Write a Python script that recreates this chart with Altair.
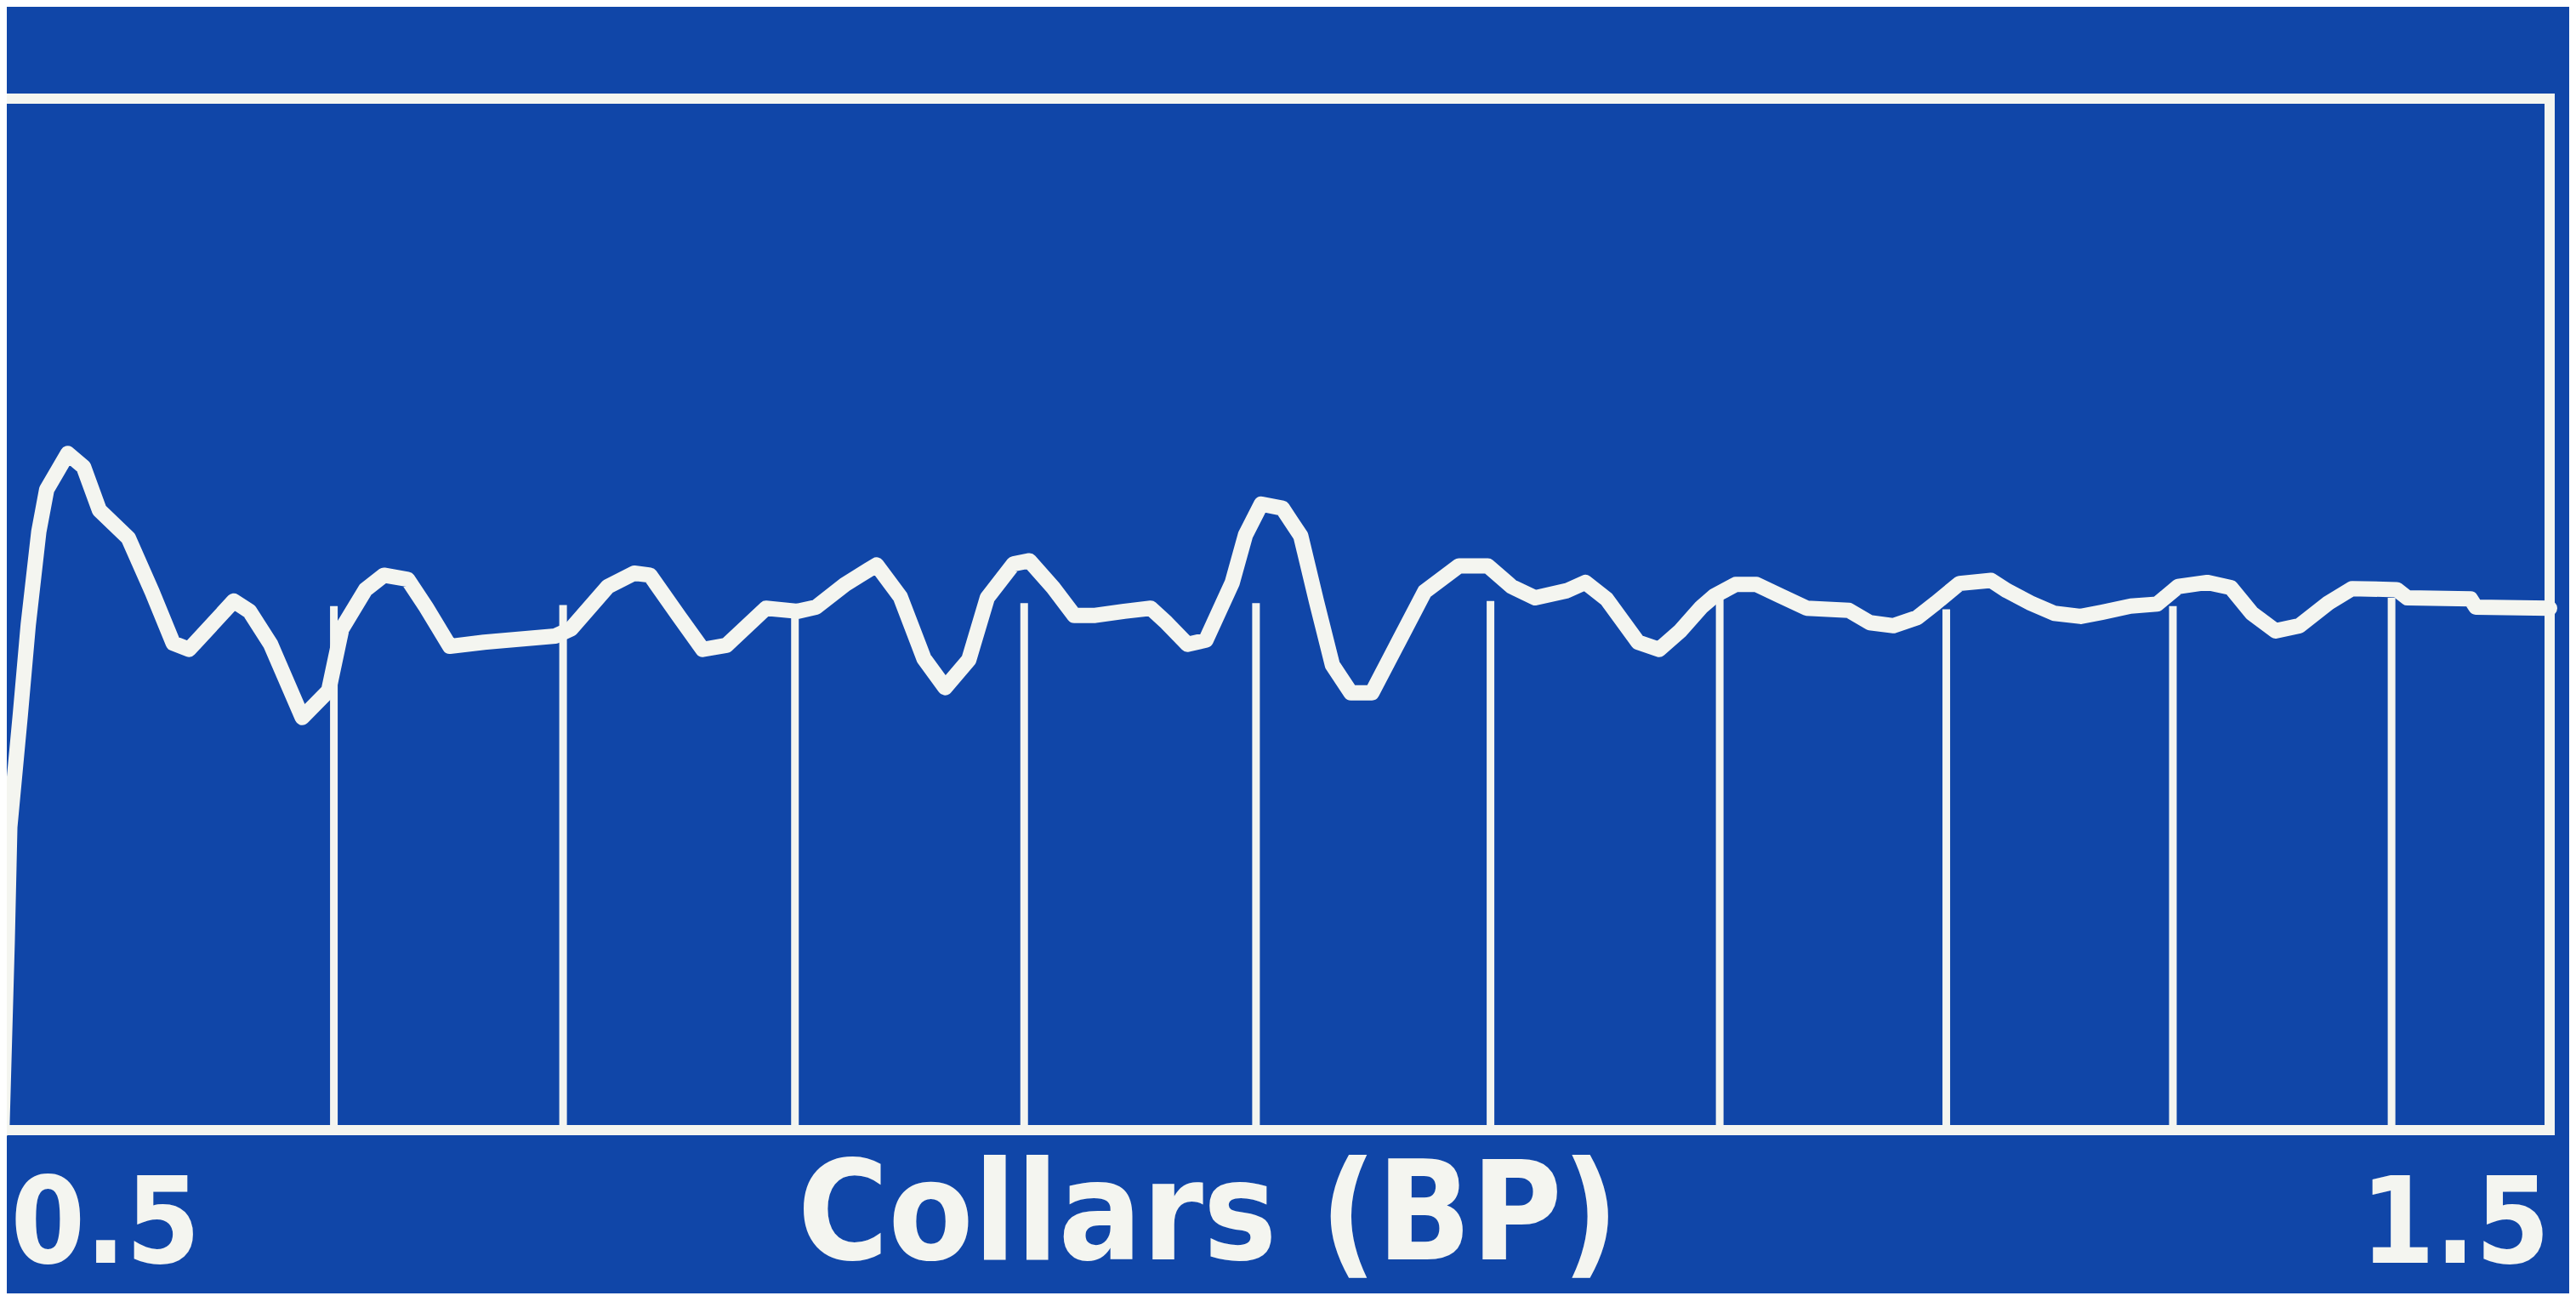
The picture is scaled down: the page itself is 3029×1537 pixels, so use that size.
import altair as alt
import pandas as pd

# ---- data -----------------------------------------------------------------
trace_x = [0.533, 0.535, 0.536, 0.540, 0.543, 0.547, 0.550, 0.558, 0.564, 0.570,
           0.581, 0.590, 0.598, 0.604, 0.621, 0.627, 0.635, 0.647, 0.657, 0.662,
           0.671, 0.678, 0.687, 0.694, 0.703, 0.716, 0.743, 0.749, 0.763, 0.773,
           0.779, 0.790, 0.799, 0.808, 0.823, 0.835, 0.842, 0.853, 0.865, 0.874,
           0.883, 0.891, 0.900, 0.907, 0.917, 0.923, 0.932, 0.940, 0.948, 0.959,
           0.969, 0.975, 0.983, 0.990, 1.000, 1.005, 1.011, 1.019, 1.026, 1.032,
           1.038, 1.045, 1.053, 1.063, 1.073, 1.086, 1.097, 1.106, 1.115, 1.127,
           1.134, 1.142, 1.154, 1.162, 1.170, 1.178, 1.183, 1.191, 1.199, 1.208,
           1.218, 1.234, 1.242, 1.251, 1.260, 1.267, 1.276, 1.288, 1.294, 1.303,
           1.312, 1.322, 1.330, 1.341, 1.351, 1.359, 1.370, 1.379, 1.387, 1.396,
           1.405, 1.416, 1.425, 1.442, 1.446, 1.470, 1.472, 1.500]
trace_y = [0, 18.2, 29.4, 40.3, 49.0, 58.0, 62.1, 65.6, 64.3, 60.1,
           57.4, 52.2, 47.2, 46.6, 51.3, 50.3, 47.1, 40.0, 42.6, 48.6,
           52.4, 53.8, 53.4, 50.7, 46.9, 47.3, 47.9, 48.6, 52.7, 54.0,
           53.8, 49.8, 46.6, 47.0, 50.6, 50.3, 50.7, 52.9, 54.8, 51.7,
           45.7, 42.9, 45.6, 51.6, 54.9, 55.2, 52.6, 49.9, 49.9, 50.3,
           50.6, 49.2, 47.1, 47.5, 53.1, 57.7, 60.7, 60.3, 57.6, 51.2,
           45.1, 42.4, 42.4, 47.3, 52.2, 54.7, 54.7, 52.7, 51.6, 52.3,
           53.1, 51.5, 47.3, 46.6, 48.4, 50.7, 51.8, 52.9, 52.9, 51.8,
           50.6, 50.4, 49.2, 48.9, 49.7, 51.1, 53.0, 53.3, 52.3, 51.1,
           50.1, 49.8, 50.2, 50.8, 51.0, 52.7, 53.1, 52.6, 50.1, 48.4,
           48.9, 51.1, 52.5, 52.4, 51.6, 51.5, 50.7, 50.6]

collar_x = [0.659, 0.746, 0.834, 0.921, 1.009, 1.098, 1.185, 1.271, 1.357, 1.440]
collar_top = [50.8, 50.9, 50.7, 51.1, 51.1, 51.3, 51.5, 50.5, 50.8, 51.6]
collar_base = [0, 0, 0, 0, 0, 0, 0, 0, 0, 0]

tick_values = [0.5, 1.5]
x_title = "Collars (BP)"

# ---- style ------------------------------------------------------------------
BLUE = "#1046a8"
WHITE = "#f4f5f0"
FONT = "DejaVu Sans Condensed"

trace_df = pd.DataFrame({"depth": trace_x, "signal": trace_y})
collar_df = pd.DataFrame({"depth": collar_x, "base": collar_base, "top": collar_top})

xscale = alt.Scale(domain=[0.5, 1.5], nice=False, zero=False)
yscale = alt.Scale(domain=[0, 100], nice=False, zero=False)

xaxis = alt.Axis(
    values=tick_values, format=".1f", title=x_title,
    grid=False, ticks=False, tickSize=0, domain=False,
    labelFlush=True, labelOverlap=False, labelLimit=0,
    labelOffset={"condition": {"test": "datum.value < 1", "value": 112}, "value": 0},
    labelFont=FONT, labelFontSize=140, labelFontWeight="bold", labelColor=WHITE,
    labelPadding=155, labelBaseline="alphabetic",
    titleFont=FONT, titleFontSize=162, titleFontWeight="bold", titleColor=WHITE,
    titleX=1520, titleY=151, titleBaseline="alphabetic", titleAlign="center",
    titleLimit=0,
)

collars = alt.Chart(collar_df).mark_rule(color=WHITE, strokeWidth=9).encode(
    x=alt.X("depth:Q", scale=xscale, axis=xaxis),
    y=alt.Y("base:Q", scale=yscale, axis=None),
    y2="top:Q",
)

trace = alt.Chart(trace_df).mark_line(
    color=WHITE, strokeWidth=18, strokeJoin="round", strokeCap="round"
).encode(
    x=alt.X("depth:Q", scale=xscale, axis=xaxis),
    y=alt.Y("signal:Q", scale=yscale, axis=None),
)

chart = alt.layer(collars, trace).properties(
    width=3098,
    height=1213,
    background=BLUE,
    padding={"left": -108, "top": 108, "right": 23, "bottom": 192},
    autosize=alt.AutoSizeParams(type="none"),
).configure_view(stroke=WHITE, strokeWidth=12, fill=BLUE)

chart.save("out.html", embed_options={"renderer": "svg", "actions": False})
